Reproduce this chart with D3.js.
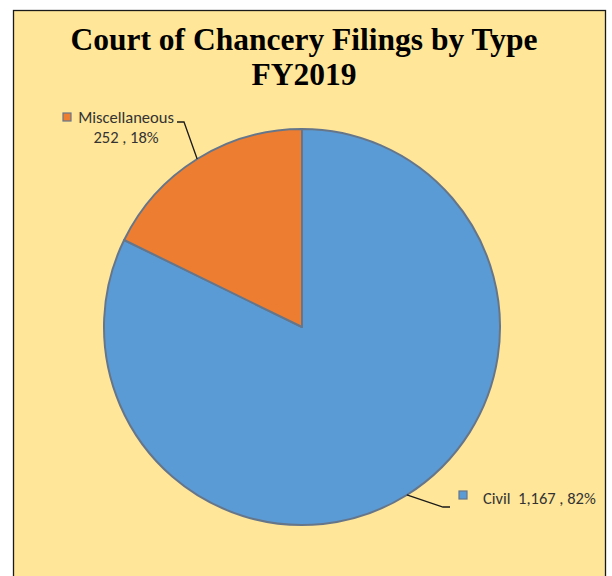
<!DOCTYPE html>
<html>
<head>
<meta charset="utf-8">
<script src="https://cdn.jsdelivr.net/npm/d3@7"></script>
<style>
  body { margin: 0; background: #fff; }
  svg { display: block; }
</style>
</head>
<body>
<svg id="chart" width="612" height="576"></svg>
<script>
// Chart data
const categories = ["Civil", "Miscellaneous"];
const filings = [1167, 252];
const percents = ["82%", "18%"];
const colors = ["#5b9bd5", "#ed7d31"];
const titleLines = ["Court of Chancery Filings by Type", "FY2019"];

const svg = d3.select("#chart");

// beige chart area
svg.append("rect")
  .attr("x", 13.5).attr("y", 10.5)
  .attr("width", 592).attr("height", 580)
  .attr("fill", "#ffe699")
  .attr("stroke", "#1a1a1a")
  .attr("stroke-width", 1.3);

// Title
svg.append("g").selectAll("text")
  .data(titleLines)
.enter().append("text")
  .attr("x", 304)
  .attr("y", (d, i) => 50 + i * 35)
  .attr("text-anchor", "middle")
  .attr("font-family", "Liberation Serif, Times New Roman, serif")
  .attr("font-weight", "bold")
  .attr("font-size", 31.5)
  .attr("fill", "#000")
  .text(d => d);

const cx = 302, cy = 327, r = 198;

const rows = categories.map((c, i) => ({ name: c, value: filings[i], pct: percents[i], color: colors[i] }));

const pie = d3.pie().sort(null).value(d => d.value);
const arc = d3.arc().innerRadius(0).outerRadius(r);
const arcs = pie(rows);

const g = svg.append("g").attr("transform", `translate(${cx},${cy})`);

g.selectAll("path")
  .data(arcs)
.enter().append("path")
  .attr("d", arc)
  .attr("fill", d => d.data.color)
  .attr("stroke", "#66768a")
  .attr("stroke-width", 2)
  .attr("stroke-linejoin", "round");

// Label layout (hand placed, like the original)
const labelConf = {
  Civil: { box: [459, 491], text: [483, 504], elbow: [[450, 507], [443, 507]] },
  Miscellaneous: { box: [63, 113], text: [126, 123], elbow: [[177, 122], [184, 122]] }
};

function edgePoint(d) {
  const a = (d.startAngle + d.endAngle) / 2;
  return [cx + r * Math.sin(a), cy - r * Math.cos(a)];
}

const labels = svg.append("g");
const fmt = d3.format(",");

arcs.forEach(d => {
  const conf = labelConf[d.data.name];
  const p = edgePoint(d);
  const pts = conf.elbow.concat([p]);
  labels.append("path")
    .attr("d", d3.line()(pts))
    .attr("fill", "none")
    .attr("stroke", "#1a1a1a")
    .attr("stroke-width", 1.3);

  labels.append("rect")
    .attr("x", conf.box[0]).attr("y", conf.box[1])
    .attr("width", 8).attr("height", 8)
    .attr("fill", d.data.color)
    .attr("stroke", "#66768a")
    .attr("stroke-width", 1.2);

  const t = labels.append("text")
    .attr("font-family", "Carlito, Calibri, Liberation Sans, Arial, sans-serif")
    .attr("font-size", 16.5)
    .attr("fill", "#333")
    .style("white-space", "pre");

  if (d.data.name === "Civil") {
    t.attr("x", conf.text[0]).attr("y", conf.text[1])
      .text(`${d.data.name}  ${fmt(d.data.value)} , ${d.data.pct}`);
  } else {
    t.attr("text-anchor", "middle");
    t.append("tspan").attr("x", conf.text[0]).attr("y", conf.text[1]).text(d.data.name);
    t.append("tspan").attr("x", conf.text[0]).attr("y", conf.text[1] + 20)
      .text(`${fmt(d.data.value)} , ${d.data.pct}`);
  }
});
</script>
</body>
</html>
